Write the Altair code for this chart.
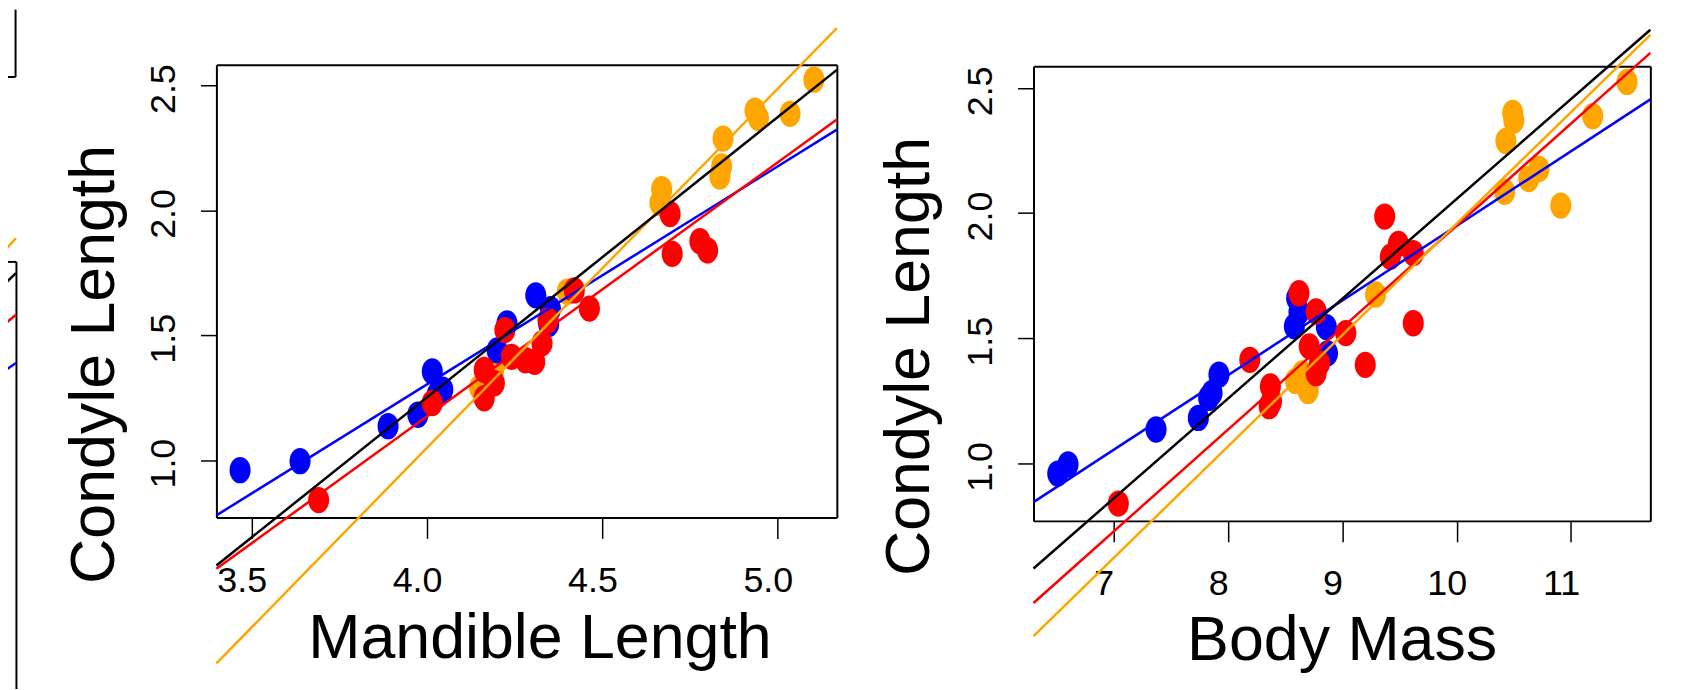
import altair as alt
import pandas as pd

# ---------------- values ----------------
line_groups = ["blue", "red", "orange", "black"]
group_colors = ["#0000ff", "#ff0000", "#ffa500", "#000000"]

blue_condyle  = [0.960, 0.996, 1.136, 1.182, 1.355, 1.282, 1.262, 1.440, 1.660, 1.605, 1.545, 1.548]
blue_mandible = [3.467, 3.638, 3.889, 3.974, 4.015, 4.045, 4.029, 4.200, 4.310, 4.352, 4.347, 4.228]
blue_mass     = [6.51, 6.60, 7.37, 7.74, 7.92, 7.86, 7.83, 8.87, 8.60, 8.62, 8.86, 8.58]

red_condyle  = [0.840, 1.229, 1.248, 1.308, 1.361, 1.414, 1.394, 1.400, 1.468, 1.521, 1.560, 1.680, 1.607, 1.986, 1.826, 1.877, 1.840]
red_mandible = [3.691, 4.015, 4.163, 4.192, 4.163, 4.241, 4.307, 4.281, 4.328, 4.222, 4.345, 4.420, 4.463, 4.693, 4.699, 4.778, 4.800]
red_mass     = [7.04, 8.36, 8.38, 8.37, 8.77, 8.19, 9.20, 8.80, 8.71, 9.03, 9.62, 8.62, 8.77, 9.37, 9.42, 9.49, 9.62]

orange_condyle  = [2.524, 2.387, 2.400, 2.370, 2.288, 2.176, 2.136, 2.085, 2.030, 1.675, 1.360, 1.330, 1.290]
orange_mandible = [5.103, 5.035, 4.935, 4.945, 4.844, 4.840, 4.835, 4.669, 4.664, 4.400, 4.190, 4.175, 4.150]
orange_mass     = [11.49, 11.19, 10.49, 10.50, 10.43, 10.72, 10.63, 10.42, 10.91, 9.29, 8.65, 8.59, 8.70]

# fitted lines (value at left and right end of each panel's x range)
mand_line_x     = [3.3995, 5.1685]
mand_line_left  = [0.779, 0.565, 0.186, 0.578]
mand_line_right = [2.324, 2.364, 2.730, 2.563]
mass_line_x     = [6.298, 11.694]
mass_line_left  = [0.846, 0.443, 0.311, 0.581]
mass_line_right = [2.454, 2.640, 2.712, 2.732]
# cut-off panel at the far left (own unit scale)
frag_line_x     = [0.0, 1.0]
frag_line_left  = [0.7366, 0.8443, 1.014, 0.937]
frag_line_right = [0.7622, 0.875, 1.0545, 0.9725]

mand_ticks = [3.5, 4.0, 4.5, 5.0]
mass_ticks = [7, 8, 9, 10, 11]
condyle_ticks = [1.0, 1.5, 2.0, 2.5]

mand_domain = [3.3995, 5.1685]
mass_domain = [6.298, 11.694]
condyle_domain_1 = [0.7704, 2.584]
condyle_domain_2 = [0.771, 2.586]

# ---------------- layout (view pixels) ----------------
W, H = 1683, 682
P1_X = [209.4, 832.8]
P1_Y = [510.3, 55.3]
P2_X = [1030.4, 1650.2]
P2_Y = [513.7, 57.0]
FRAG_X = [-8.0, 8.0]
FRAG_Y = [682.0, 253.0]
FONT = "Liberation Sans"

ELLIPSE = "M -0.8 0 A 0.8 1 0 1 1 0.8 0 A 0.8 1 0 1 1 -0.8 0 Z"

rows = []
for grp, cs, ms, bs in [("orange", orange_condyle, orange_mandible, orange_mass),
                        ("blue", blue_condyle, blue_mandible, blue_mass),
                        ("red", red_condyle, red_mandible, red_mass)]:
    for c, m, b in zip(cs, ms, bs):
        rows.append({"group": grp, "condyle": c, "mandible": m, "mass": b})
points = pd.DataFrame(rows)


def line_frame(xs, left, right):
    return pd.DataFrame({"group": line_groups,
                         "x1": [xs[0]] * len(line_groups), "x2": [xs[1]] * len(line_groups),
                         "y1": left, "y2": right})


lines1 = line_frame(mand_line_x, mand_line_left, mand_line_right)
lines2 = line_frame(mass_line_x, mass_line_left, mass_line_right)
lines0 = line_frame(frag_line_x, frag_line_left, frag_line_right)

color = alt.Color("group:N", scale=alt.Scale(domain=line_groups, range=group_colors), legend=None)


def sc(domain, rng):
    return alt.Scale(domain=domain, range=rng, nice=False, zero=False)


def bottom_axis(values, fmt, title, ybox, tx, ty):
    return alt.Axis(orient="bottom", offset=ybox - H, values=values, format=fmt, title=title, grid=False,
                    domainColor="black", domainWidth=2, tickColor="black", tickWidth=1.5, tickSize=21,
                    labelFont=FONT, labelFontSize=36, labelColor="black", labelPadding=53,
                    labelBaseline="alphabetic", labelAlign="center", labelAngle=0, labelOffset=-10,
                    labelFlush=False, labelOverlap=False,
                    titleFont=FONT, titleFontSize=63, titleFontWeight="normal", titleColor="black",
                    titleX=tx, titleY=ty, titleAlign="center", titleBaseline="alphabetic", titleAngle=0)


def left_axis(xbox, tx, ty):
    return alt.Axis(orient="left", offset=-xbox, values=condyle_ticks, format=".1f", title="Condyle Length",
                    grid=False, domainColor="black", domainWidth=2, tickColor="black", tickWidth=1.5,
                    tickSize=16, labelFont=FONT, labelFontSize=36, labelColor="black", labelPadding=26,
                    labelAngle=270, labelAlign="center", labelBaseline="alphabetic", labelOffset=3,
                    labelFlush=False, labelOverlap=False,
                    titleFont=FONT, titleFontSize=63, titleFontWeight="normal", titleColor="black",
                    titleX=tx, titleY=ty, titleAlign="center", titleBaseline="alphabetic", titleAngle=270)


def frame_axis(orient, offset):
    return alt.Axis(orient=orient, offset=offset, ticks=False, labels=False, grid=False, title="",
                    domainColor="black", domainWidth=2)


pts1 = alt.Chart(points).mark_point(shape=ELLIPSE, filled=True, size=700, opacity=1, strokeWidth=0).encode(
    x=alt.X("mandible:Q", scale=sc(mand_domain, P1_X),
            axis=bottom_axis(mand_ticks, ".1f", "Mandible Length", P1_Y[0], 534, 141)),
    y=alt.Y("condyle:Q", scale=sc(condyle_domain_1, P1_Y), axis=left_axis(P1_X[0], -103.4, 356)),
    color=color,
)
lin1 = alt.Chart(lines1).mark_rule(strokeWidth=2.5, clip=False).encode(
    x=alt.X("x1:Q", scale=sc(mand_domain, P1_X), axis=frame_axis("top", -P1_Y[1])),
    x2="x2:Q",
    y=alt.Y("y1:Q", scale=sc(condyle_domain_1, P1_Y), axis=frame_axis("right", P1_X[1] - W)),
    y2="y2:Q",
    color=color,
)
pts2 = alt.Chart(points).mark_point(shape=ELLIPSE, filled=True, size=700, opacity=1, strokeWidth=0).encode(
    x=alt.X("mass:Q", scale=sc(mass_domain, P2_X),
            axis=bottom_axis(mass_ticks, "d", "Body Mass", P2_Y[0], 1340, 139)),
    y=alt.Y("condyle:Q", scale=sc(condyle_domain_2, P2_Y), axis=left_axis(P2_X[0], -105.4, 348)),
    color=color,
)
lin2 = alt.Chart(lines2).mark_rule(strokeWidth=2.5, clip=False).encode(
    x=alt.X("x1:Q", scale=sc(mass_domain, P2_X), axis=frame_axis("top", -P2_Y[1])),
    x2="x2:Q",
    y=alt.Y("y1:Q", scale=sc(condyle_domain_2, P2_Y), axis=frame_axis("right", P2_X[1] - W)),
    y2="y2:Q",
    color=color,
)
lin0 = alt.Chart(lines0).mark_rule(strokeWidth=2.5, clip=False).encode(
    x=alt.X("x1:Q", scale=sc([0.0, 1.0], FRAG_X), axis=frame_axis("top", -FRAG_Y[1])),
    x2="x2:Q",
    y=alt.Y("y1:Q", scale=sc([0.0, 1.0], FRAG_Y), axis=frame_axis("right", FRAG_X[1] - W)),
    y2="y2:Q",
    color=color,
)
dummy = pd.DataFrame({"a": [0]})
box_v = alt.Chart(dummy).mark_rule(color="black", strokeWidth=2).encode(
    x=alt.value(7.6), y=alt.value(0), y2=alt.value(67.7))
box_h = alt.Chart(dummy).mark_rule(color="black", strokeWidth=2).encode(
    x=alt.value(0), x2=alt.value(7.6), y=alt.value(67.7))

chart = alt.layer(pts1, lin1, pts2, lin2, lin0, box_v, box_h).resolve_scale(
    x="independent", y="independent"
).properties(
    width=W, height=H, padding=0, autosize=alt.AutoSizeParams(type="none"), background="white"
).configure_view(strokeWidth=0)

chart.save("out.html", embed_options={"renderer": "svg", "actions": False})
